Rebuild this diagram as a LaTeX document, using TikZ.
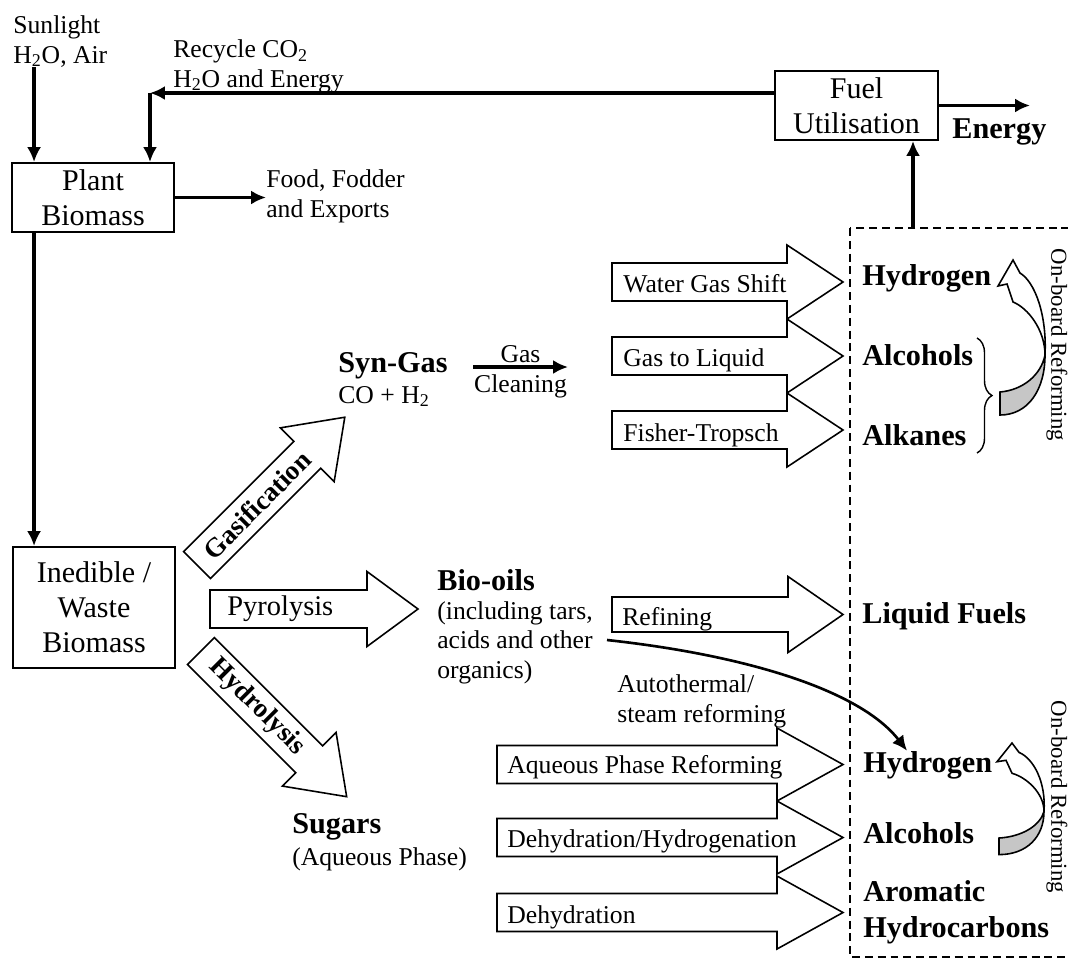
\documentclass[tikz,border=0pt]{standalone}
\usepackage{fontspec}
\setmainfont{Liberation Serif}
\usetikzlibrary{shapes,arrows.meta,positioning,calc,decorations.pathreplacing}

\newcommand{\notefont}{\fontsize{14.6}{16.6}\selectfont}
\newcommand{\boxfont}{\fontsize{17.1}{19.9}\selectfont}
\newcommand{\prodfont}{\fontsize{17.2}{20.5}\selectfont\bfseries}
\newcommand{\procfont}{\fontsize{15.4}{18}\selectfont\bfseries}
\newcommand{\pyrofont}{\fontsize{16.2}{18}\selectfont}
\newcommand{\sidefont}{\fontsize{13}{15}\selectfont}

\begin{document}
\begin{tikzpicture}[x=0.02cm, y=-0.02cm]
  \tikzset{
    box/.style={draw, line width=1.1pt, minimum width=3.24cm, align=center, font=\boxfont, inner sep=2pt},
    note/.style={align=left, font=\notefont, inner sep=0pt, anchor=base west},
    product/.style={align=left, font=\prodfont, inner sep=0pt, anchor=base west},
    myarrow/.style={->, >={Latex[length=8.5pt, width=8pt]}, line width=1.8pt},
    fatline/.style={draw, line width=0.9pt, fill=white, line join=miter},
    pics/fatarrow/.style n args={4}{code={
      \draw[fatline] (0,-#3) -- ({#1-#2},-#3) -- ({#1-#2},-#4) -- (#1,0)
        -- ({#1-#2},#4) -- ({#1-#2},#3) -- (0,#3) -- cycle;
    }},
    pics/reform/.style={code={
      \draw[line width=0.9pt, fill=gray!45] (-13,132) .. controls (10,130) and (28,115) .. (32,95)
        .. controls (32,130) and (15,155) .. (-13,155) -- cycle;
      \draw[line width=0.9pt, fill=white] (0,0) -- (-15,26) -- (-6,24) -- (0,42)
        .. controls (15,48) and (32,70) .. (32,95)
        .. controls (34,55) and (22,22) .. (7,13) -- cycle;
    }},
  }
  \useasboundingbox (0,0) rectangle (1068,965);

  % plant side
  \node[box, minimum height=1.38cm] (plant) at (93,197.5) {Plant\\Biomass};
  \node[note] (sun) at (13,63) {Sunlight\\H\textsubscript{2}O, Air};
  \node[note] (recycle) at (173,87) {Recycle CO\textsubscript{2}\\H\textsubscript{2}O and Energy};
  \node[note] (food) at (266,217) {Food, Fodder\\and Exports};
  \node[box, minimum height=2.42cm] (waste) at (94,607.5) {Inedible /\\Waste\\Biomass};
  \node[box, minimum width=3.26cm, minimum height=1.38cm] (fuel) at (856.5,105.5) {Fuel\\Utilisation};
  \node[product] (energy) at (952,138) {Energy};

  \coordinate (sunin) at ([xshift=0.46cm]plant.north west);
  \coordinate (recyc) at (150,93);
  \coordinate (energyout) at (1030,102);
  \coordinate (boxtop) at (913,228);

  \draw[myarrow] (sun.south -| sunin) -- (sunin);
  \draw[myarrow] (recyc -| fuel.west) -- (recyc);
  \draw[myarrow] (recyc) -- (recyc |- plant.north);
  \draw[myarrow] (plant.east) -- (plant.east -| food.west);
  \draw[myarrow] (sunin |- plant.south) -- (sunin |- waste.north);
  \draw[myarrow] (fuel.east) -- (fuel.east -| energyout);
  \draw[myarrow] (boxtop) -- (boxtop |- fuel.south);

  % dashed fuel box
  \begin{scope}
    \clip (0,0) rectangle (1068,965);
    \draw[dash pattern=on 4.5pt off 2.8pt, line width=0.9pt] (850,228) rectangle (1090,957);
  \end{scope}

  % conversion routes
  \pic[rotate=45] at (197,565) {fatarrow={209}{53}{19}{38}};
  \pic at (210,609) {fatarrow={208}{51}{19}{37.5}};
  \pic[rotate=-45] at (201,651) {fatarrow={206}{53}{19}{38}};
  \node[font=\procfont, rotate=45] (gasif) at (257,505) {Gasification};
  \node[note, font=\pyrofont] (pyro) at (227,615) {Pyrolysis};
  \node[font=\procfont, rotate=-45] (hydro) at (257,707) {Hydrolysis};

  \node[product] (syngas) at (338,372) {Syn-Gas};
  \node[note] (co) at (338,403) {CO + H\textsubscript{2}};
  \node[product] (bio) at (437,590) {Bio-oils};
  \node[note] (bionote) at (437,678) {(including tars,\\acids and other\\organics)};
  \node[product] (sugar) at (292,833) {Sugars};
  \node[note] (aq) at (292,865) {(Aqueous Phase)};

  \coordinate (gcl) at (473,367);
  \coordinate (gcr) at (568,367);
  \coordinate (gcmid) at ($(gcl)!0.5!(gcr)$);
  \draw[myarrow] (gcl) -- (gcr);
  \node[font=\notefont, inner sep=0pt, above=0.08cm of gcmid] (gas) {Gas};
  \node[font=\notefont, inner sep=0pt, below=0.15cm of gcmid] (clean) {Cleaning};

  % syn-gas upgrading
  \pic at (612,282) {fatarrow={231}{56}{19}{37}};
  \pic at (612,356) {fatarrow={231}{56}{19}{37}};
  \pic at (612,430) {fatarrow={231}{56}{19}{37}};
  \node[note] (wgs) at (623,292) {Water Gas Shift};
  \node[note] (gtl) at (623,366) {Gas to Liquid};
  \node[note] (ft) at (623,441) {Fisher-Tropsch};
  \node[product] (h2a) at (862,285) {Hydrogen};
  \node[product] (alca) at (862,365) {Alcohols};
  \node[product] (alk) at (862,445) {Alkanes};
  \draw[decorate, decoration={brace, amplitude=0.3cm}, line width=0.8pt] (977,338) -- (977,453);
  \pic at (1013,260) {reform};
  \node[font=\sidefont, rotate=-90] (onboarda) at (1057,345) {On-board Reforming};

  % bio-oil upgrading
  \pic at (612,614.5) {fatarrow={231}{55}{17.5}{38}};
  \node[note] (refine) at (622,625) {Refining};
  \node[product] (liquid) at (862,623) {Liquid Fuels};
  \node[note] (auto) at (617,722) {Autothermal/\\steam reforming};

  % sugar upgrading
  \pic at (497,764.5) {fatarrow={346}{66}{19}{36.5}};
  \pic at (497,837.5) {fatarrow={346}{66}{19}{36.5}};
  \pic at (497,912.5) {fatarrow={346}{66}{19}{36.5}};
  \node[note] (apr) at (507,773) {Aqueous Phase Reforming};
  \node[note] (dhh) at (507,847) {Dehydration/Hydrogenation};
  \node[note] (deh) at (507,923) {Dehydration};
  \node[product] (h2b) at (863,772) {Hydrogen};
  \node[product] (alcb) at (863,843) {Alcohols};
  \node[product] (arom) at (863,937) {Aromatic\\Hydrocarbons};
  \pic[yscale=0.72] at (1012,743) {reform};
  \node[font=\sidefont, rotate=-90] (onboardb) at (1057,797) {On-board Reforming};

  \coordinate (bioout) at (607,640);
  \coordinate (h2in) at ([xshift=0.88cm]h2b.north west);
  \draw[myarrow, line width=1.5pt] (bioout) .. controls (745,655) and (860,690) .. (h2in);

\end{tikzpicture}
\end{document}
